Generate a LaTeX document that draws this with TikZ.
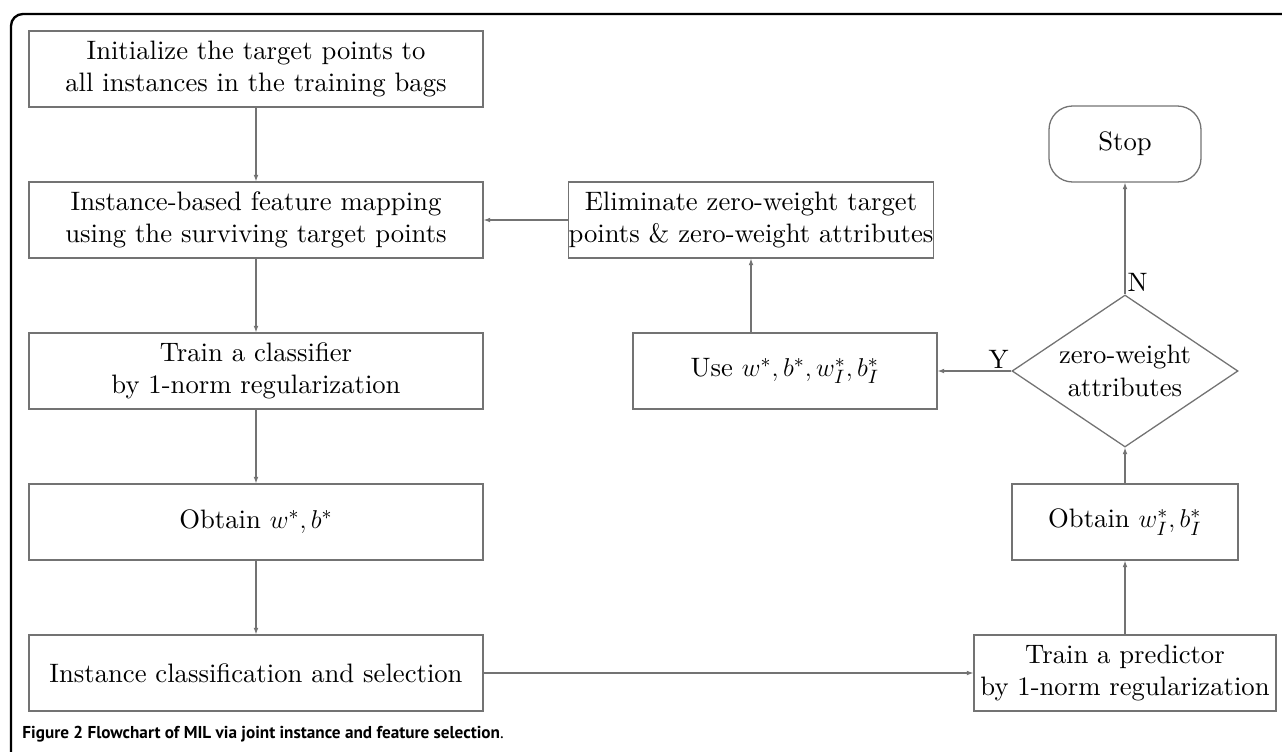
\documentclass[tikz,border=0pt]{standalone}
\usepackage{fontspec}
\setmainfont{lmroman10-regular.otf}
\newfontfamily\capfont{PT Sans}
\usetikzlibrary{arrows.meta,shapes.geometric}
\newlength\pxu
\setlength\pxu{0.465pt}
\definecolor{boxgray}{gray}{0.45}
\tikzset{
  procbox/.style={draw=boxgray, line width=0.6pt, minimum height=76*\pxu,
    inner sep=0pt, align=center, font=\fontsize{12.4}{15}\selectfont},
  flow/.style={draw=boxgray, line width=0.5pt, -{Latex[length=3pt,width=2.2pt]}},
  lbl/.style={inner sep=1pt, font=\fontsize{12.4}{15}\selectfont},
}

\begin{document}
\begin{tikzpicture}[x=\pxu, y=-\pxu]
	\useasboundingbox (0,0) rectangle (1282,751);
	\draw[line width=1.1pt, rounded corners=5.5pt] (11,790) -- (11,14) -- (1320,14);

	% left column
	\node[procbox, minimum width=454*\pxu] (init) at (256,69) {Initialize the target points to\\all instances in the training bags};
	\node[procbox, minimum width=454*\pxu] (map) at (256,220) {Instance-based feature mapping\\using the surviving target points};
	\node[procbox, minimum width=454*\pxu] (clf) at (256,371) {Train a classifier\\by 1-norm regularization};
	\node[procbox, minimum width=454*\pxu] (obt) at (256,522) {Obtain $w^*, b^*$};
	\node[procbox, minimum width=454*\pxu] (sel) at (256,673) {Instance classification and selection};

	% right column
	\node[procbox, minimum width=310*\pxu] (elim) at (751,220) {Eliminate zero-weight target\\points \& zero-weight attributes};
	\node[procbox, minimum width=304*\pxu] (use) at (785,371) {Use $w^*, b^*, w_I^*, b_I^*$};
	\node[procbox, minimum width=226*\pxu] (obtI) at (1125,522) {Obtain $w_I^*, b_I^*$};
	\node[procbox, minimum width=302*\pxu] (pred) at (1125,673) {Train a predictor\\by 1-norm regularization};
	\node[procbox, minimum width=152*\pxu, rounded corners=11pt] (stop) at (1125,144) {Stop};
	\node[procbox, diamond, aspect=1.5, minimum width=226*\pxu, minimum height=152*\pxu] (zw) at (1125,371) {zero-weight\\attributes};

	\draw[flow] (init) -- (map);
	\draw[flow] (map) -- (clf);
	\draw[flow] (clf) -- (obt);
	\draw[flow] (obt) -- (sel);
	\draw[flow] (sel) -- (pred);
	\draw[flow] (pred) -- (obtI);
	\draw[flow] (obtI) -- (zw);
	\draw[flow] (zw.north) -- node[lbl, at start, anchor=south west] (nlab) {N} (stop.south);
	\draw[flow] (zw.west) -- node[lbl, at start, anchor=south east] (ylab) {Y} (use.east);
	\draw[flow] (use.north -| elim.south) -- (elim.south);
	\draw[flow] (elim) -- (map);

	\node[anchor=base west, inner sep=0pt, font=\capfont\fontsize{8}{9}\selectfont] (cap) at (22,738)
		{\textbf{Figure 2 Flowchart of MIL via joint instance and feature selection}.};
\end{tikzpicture}
\end{document}
